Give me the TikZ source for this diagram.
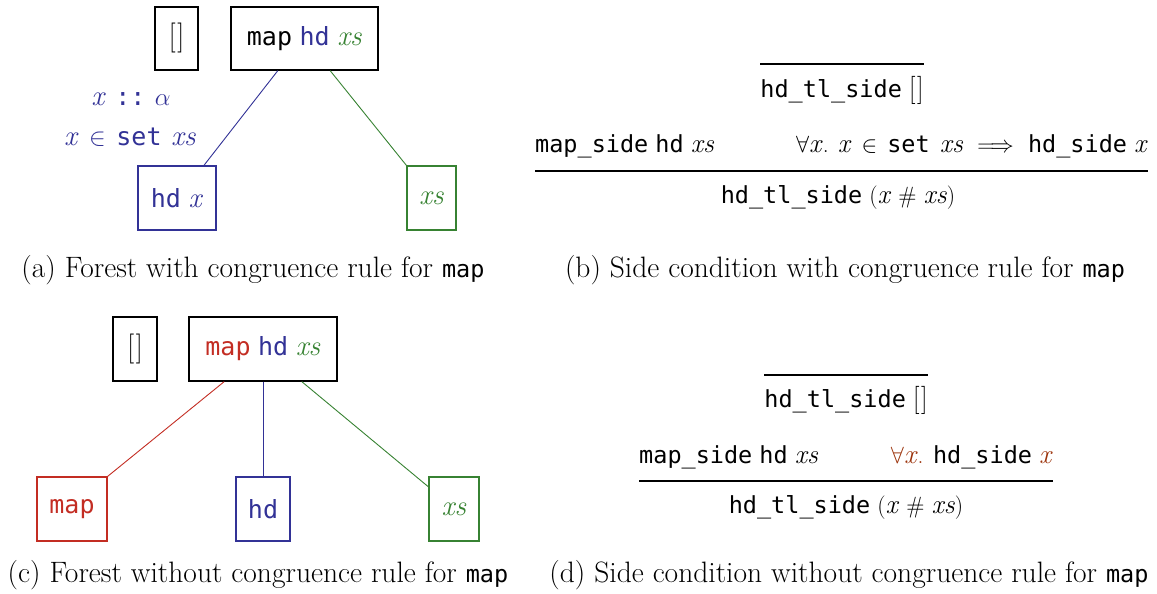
\documentclass[tikz,border=0pt]{standalone}
\usepackage{fix-cm}
\usepackage{fontspec}
\setmonofont{DejaVu Sans Mono}
\usetikzlibrary{calc}

\definecolor{isablue}{RGB}{50,50,150}
\definecolor{isagreen}{RGB}{55,130,50}
\definecolor{isared}{RGB}{195,45,35}
\definecolor{isabrown}{RGB}{155,50,10}

\newcommand{\isa}[1]{\texttt{#1}}
\newcommand{\vx}{\scalebox{1.15}{\textit{x}}}
\newcommand{\vxs}{\scalebox{1.15}{\textit{xs}}}
\newcommand{\nil}{\scalebox{1.1}[1.2]{[\kern1.5pt]}}
\newcommand{\isin}{\ \kern3pt$\in$\ \kern3pt}
\newcommand{\capmap}{{\fontsize{23.5}{28}\selectfont\isa{map}}}

\tikzset{
  forestfont/.style={font=\fontsize{25}{30}\selectfont},
  rulefont/.style={font=\fontsize{23.5}{28}\selectfont},
  capfont/.style={font=\fontsize{29.5}{34}\selectfont},
  tbox/.style={draw, line width=1.3pt, inner sep=0pt, forestfont},
  edge/.style={line width=0.9pt},
  inferbar/.style={line width=1.6pt},
  txt/.style={inner sep=0pt, anchor=base},
}

\begin{document}
\begin{tikzpicture}[x=1pt,y=-1pt]
\useasboundingbox (0,0) rectangle (1157,594);

% ---------- (a) forest with congruence rule ----------
\node[tbox, minimum width=43pt, minimum height=63pt] (aNil) at (176.5,38.5) {\nil};
\node[tbox, minimum width=147pt, minimum height=63pt] (aTop) at (304.5,38.5)
  {\isa{map} \textcolor{isablue}{\isa{hd}} \textcolor{isagreen}{\vxs}};
\node[tbox, draw=isablue, line width=1.1pt, text=isablue, minimum width=78pt, minimum height=64pt] (aHd) at (177,198)
  {\isa{hd} \vx};
\node[tbox, draw=isagreen, line width=1.1pt, text=isagreen, minimum width=49pt, minimum height=64pt] (aXs) at (431.5,198)
  {\vxs};
\draw[edge, isablue] ($(aTop.south west)!0.32!(aTop.south east)$) -- ($(aHd.north west)!0.84!(aHd.north east)$);
\draw[edge, isagreen] ($(aTop.south west)!0.673!(aTop.south east)$) -- (aXs.north west);
\node[txt, forestfont, text=isablue] (aTy) at (131,105) {\vx\ \kern2pt\isa{::}\ \kern2pt$\alpha$};
\node[txt, forestfont, text=isablue] (aIn) at (130,145) {\vx\isin\isa{set}\ \kern2pt\vxs};
\node[txt, capfont] (capA) at (253,277) {(a) Forest with congruence rule for \capmap};

% ---------- (b) side condition with congruence rule ----------
\node[txt, rulefont] (bAx) at (842,97) {\isa{hd\_tl\_side} \nil};
\draw[inferbar] ($(bAx.base west)+(0,-33)$) -- ($(bAx.base east)+(0,-33)$);
\node[txt, rulefont, anchor=base west] (bP1) at (535,152) {\isa{map\_side} \isa{hd} \vxs};
\node[txt, rulefont, anchor=base east] (bP2) at (1148,152)
  {$\forall$\vx.\ \kern2pt\vx\isin\isa{set}\ \kern3pt\vxs\ \ $\Longrightarrow$\ \ \isa{hd\_side} \vx};
\draw[inferbar] ($(bP1.base west)+(0,19)$) -- ($(bP2.base east)+(0,19)$);
\node[txt, rulefont] (bC) at (838,203) {\isa{hd\_tl\_side} (\vx\ \# \vxs)};
\node[txt, capfont] (capB) at (845,277) {(b) Side condition with congruence rule for \capmap};

% ---------- (c) forest without congruence rule ----------
\node[tbox, minimum width=44pt, minimum height=64pt] (cNil) at (135,349) {\nil};
\node[tbox, minimum width=148pt, minimum height=64pt] (cTop) at (263,349)
  {\textcolor{isared}{\isa{map}} \textcolor{isablue}{\isa{hd}} \textcolor{isagreen}{\vxs}};
\node[tbox, draw=isared, line width=1.1pt, text=isared, minimum width=70pt, minimum height=64pt] (cMap) at (72,509) {\isa{map}};
\node[tbox, draw=isablue, line width=1.1pt, text=isablue, minimum width=54pt, minimum height=64pt] (cHd) at (263,509) {\isa{hd}};
\node[tbox, draw=isagreen, line width=1.1pt, text=isagreen, minimum width=50pt, minimum height=64pt] (cXs) at (454,509) {\vxs};
\draw[edge, isared] ($(cTop.south west)!0.24!(cTop.south east)$) -- (cMap.north east);
\draw[edge, isablue] (cTop.south) -- (cHd.north);
\draw[edge, isagreen] ($(cTop.south west)!0.76!(cTop.south east)$) -- ($(cXs.north west)!0.16!(cXs.south west)$);
\node[txt, capfont] (capC) at (258,582) {(c) Forest without congruence rule for \capmap};

% ---------- (d) side condition without congruence rule ----------
\node[txt, rulefont] (dAx) at (846,407) {\isa{hd\_tl\_side} \nil};
\draw[inferbar] ($(dAx.base west)+(0,-32)$) -- ($(dAx.base east)+(0,-32)$);
\node[txt, rulefont, anchor=base west] (dP1) at (639,463) {\isa{map\_side} \isa{hd} \vxs};
\node[txt, rulefont, anchor=base east] (dP2) at (1053,463)
  {\textcolor{isabrown}{$\forall$\vx.} \isa{hd\_side} \textcolor{isabrown}{\vx}};
\draw[inferbar] ($(dP1.base west)+(0,18)$) -- ($(dP2.base east)+(0,18)$);
\node[txt, rulefont] (dC) at (846,513) {\isa{hd\_tl\_side} (\vx\ \# \vxs)};
\node[txt, capfont] (capD) at (849,582) {(d) Side condition without congruence rule for \capmap};
\end{tikzpicture}
\end{document}
